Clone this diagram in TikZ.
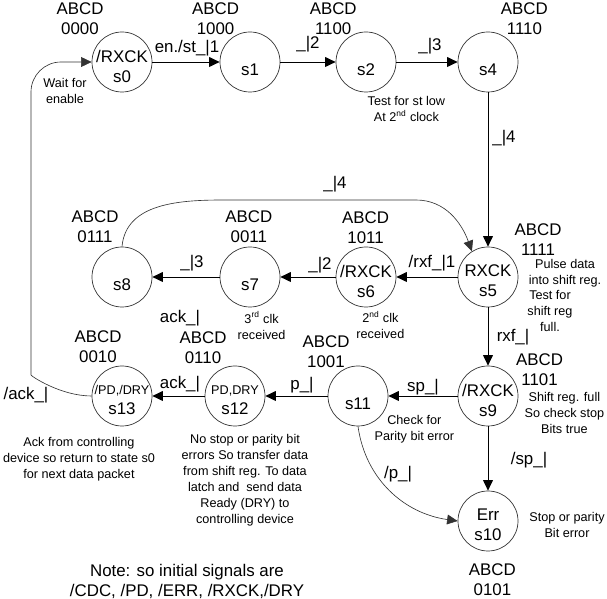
\documentclass[tikz,border=0pt]{standalone}
\usepackage{fontspec}
\setmainfont{Liberation Sans}
\usetikzlibrary{arrows.meta}

\tikzset{
  state/.style={circle, draw=black!80, line width=0.5pt, minimum size=1.5cm, inner sep=0pt},
  stxt/.style={align=center, font=\fontsize{12}{14.2}\selectfont, inner sep=0pt, yshift=-0.1cm},
  abcd/.style={align=center, font=\fontsize{12}{14.2}\selectfont, inner sep=0pt},
  lbl/.style={font=\fontsize{12}{14.2}\selectfont, inner sep=0pt},
  remark/.style={align=center, font=\fontsize{9}{11.4}\selectfont, inner sep=0pt},
  trans/.style={-{Triangle[length=7.5pt,width=7pt]}, line width=0.7pt},
  bent/.style={-{Triangle[length=7.5pt,width=7pt]}, line width=0.45pt, black!80}
}

\begin{document}
\begin{tikzpicture}
\useasboundingbox (0,0) rectangle (15.175,14.975);

%top row
\node[state, label={[stxt]center:{/RXCK\\s0}}] (s0) at (3.05,13.425) {};
\node[state, label={[stxt]center:{\mbox{}\\s1}}] (s1) at (6.25,13.425) {};
\node[state, label={[stxt]center:{\mbox{}\\s2}}] (s2) at (9.15,13.425) {};
\node[state, label={[stxt]center:{\mbox{}\\s4}}] (s4) at (12.2,13.425) {};

%middle row
\node[state, label={[stxt]center:{RXCK\\s5}}] (s5) at (12.2,8.05) {};
\node[state, label={[stxt]center:{/RXCK\\s6}}] (s6) at (9.15,8.05) {};
\node[state, label={[stxt]center:{\mbox{}\\s7}}] (s7) at (6.25,8.05) {};
\node[state, label={[stxt]center:{\mbox{}\\s8}}] (s8) at (3.05,8.05) {};

%bottom row
\node[state, label={[stxt]center:{/RXCK\\s9}}] (s9) at (12.2,5.075) {};
\node[state, label={[stxt]center:{\mbox{}\\s11}}] (s11) at (8.95,5.075) {};
\node[state, label={[stxt]center:{{\fontsize{9}{11}\selectfont PD,DRY}\\s12}}] (s12) at (5.875,5.075) {};
\node[state, label={[stxt]center:{{\fontsize{9}{11}\selectfont /PD,/DRY}\\s13}}] (s13) at (3.05,5.075) {};
\node[state, label={[stxt]center:{Err\\s10}}] (s10) at (12.2,1.95) {};

%state codes
\node[abcd] (c0) at (2.0,14.5) {ABCD\\0000};
\node[abcd] (c1) at (5.39,14.5) {ABCD\\1000};
\node[abcd] (c2) at (8.33,14.5) {ABCD\\1100};
\node[abcd] (c4) at (13.11,14.5) {ABCD\\1110};
\node[abcd] (c5) at (13.45,8.975) {ABCD\\1111};
\node[abcd] (c6) at (9.14,9.29) {ABCD\\1011};
\node[abcd] (c7) at (6.22,9.31) {ABCD\\0011};
\node[abcd] (c8) at (2.375,9.31) {ABCD\\0111};
\node[abcd] (c13) at (2.45,6.3) {ABCD\\0010};
\node[abcd] (c12) at (5.075,6.29) {ABCD\\0110};
\node[abcd] (c11) at (8.15,6.19) {ABCD\\1001};
\node[abcd] (c9) at (13.49,5.74) {ABCD\\1101};
\node[abcd] (c10) at (12.31,0.475) {ABCD\\0101};

%straight transitions
\draw[trans] (s0) -- (s1);
\draw[trans] (s1) -- (s2);
\draw[trans] (s2) -- (s4);
\draw[trans] (s4) -- (s5);
\draw[trans] (s5) -- (s6);
\draw[trans] (s6) -- (s7);
\draw[trans] (s7) -- (s8);
\draw[trans] (s5) -- (s9);
\draw[trans] (s9) -- (s11);
\draw[trans] (s11) -- (s12);
\draw[trans] (s12) -- (s13);
\draw[trans] (s9) -- (s10);

%curved transitions
\coordinate (loopbot) at (0.775,6.35);
\coordinate (looptop) at (0.775,13.425);
\draw[bent, rounded corners=0.75cm] (s13.west) to[out=180,in=-90] (loopbot) -- (looptop) -- (s0.west);

\coordinate (arcl) at (5.6,9.975);
\coordinate (arcr) at (10.4,9.975);
\draw[bent] (s8.north) to[out=85,in=180] (arcl) -- (arcr) to[out=0,in=110] (s5.122);

\draw[bent] (s11.south) to[out=-82,in=172] (s10.west);

%transition labels
\node[lbl] (l01) at (4.675,13.775) {en./st\_|1};
\node[lbl] (l12) at (7.7,13.875) {\_|2};
\node[lbl] (l24) at (10.75,13.825) {\_|3};
\node[lbl] (l45) at (12.6,11.525) {\_|4};
\node[lbl] (l85) at (8.375,10.375) {\_|4};
\node[lbl] (l56) at (10.8,8.4) {/rxf\_|1};
\node[lbl] (l67) at (8.0,8.35) {\_|2};
\node[lbl] (l78) at (4.8,8.4) {\_|3};
\node[lbl] (lack) at (4.5,7.025) {ack\_|};
\node[lbl] (l59) at (12.825,6.55) {rxf\_|};
\node[lbl] (l911) at (10.575,5.3) {sp\_|};
\node[lbl] (l1112) at (7.55,5.35) {p\_|};
\node[lbl] (l1213) at (4.5,5.375) {ack\_|};
\node[lbl] (l130) at (0.65,5.1) {/ack\_|};
\node[lbl] (l910) at (13.225,3.475) {/sp\_|};
\node[lbl] (l1110) at (9.95,3.125) {/p\_|};

%remarks
\node[remark] (r0) at (1.625,12.7) {Wait for\\enable};
\node[remark] (r2) at (10.16,12.24) {Test for st low\\At 2\textsuperscript{nd} clock};
\node[remark] (r5a) at (14.125,8.15) {Pulse data\\into shift reg.};
\node[remark] (r5b) at (13.75,7.2) {Test for\\shift reg\\full.};
\node[remark] (r6) at (9.51,6.85) {2\textsuperscript{nd} clk\\received};
\node[remark] (r7) at (6.54,6.84) {3\textsuperscript{rd} clk\\received};
\node[remark] (r9) at (14.11,4.66) {Shift reg. full\\So check stop\\Bits true};
\node[remark] (r11) at (10.36,4.25) {Check for\\Parity bit error};
\node[remark] (r10) at (14.175,1.84) {Stop or parity\\Bit error};
\node[remark] (r13) at (1.975,3.49) {Ack from controlling\\device so return to state s0\\for next data packet};
\node[remark] (r12) at (6.125,2.96) {No stop or parity bit\\errors So transfer data\\from shift reg. To data\\latch and\ \ send data\\Ready (DRY) to\\controlling device};

\node[abcd] (note) at (4.675,0.45) {Note: so initial signals are\\/CDC, /PD, /ERR, /RXCK,/DRY};

\end{tikzpicture}
\end{document}
